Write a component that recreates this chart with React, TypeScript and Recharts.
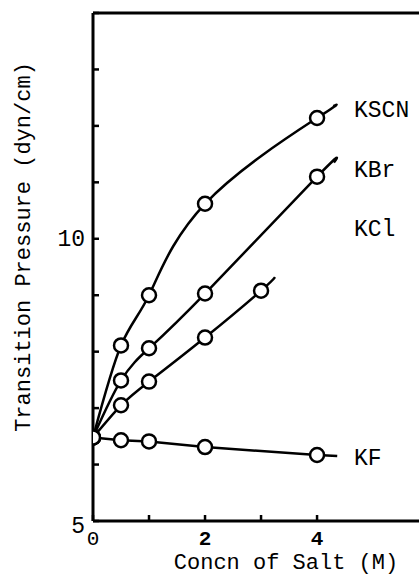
import { ComposedChart, Line, Scatter, XAxis, YAxis, ReferenceLine, ReferenceDot } from "recharts";

const FONT = '"Liberation Mono", "DejaVu Sans Mono", monospace';

// concentration of salt (M) and transition pressure (dyn/cm)
const conc = [0, 0.5, 1, 2, 4];
const kclConc = [0, 0.5, 1, 2, 3];
const kscn = [6.48, 8.11, 9.0, 10.62, 12.14];
const kbr = [6.48, 7.49, 8.06, 9.03, 11.1];
const kcl = [6.48, 7.05, 7.47, 8.25, 9.08];
const kf = [6.48, 6.43, 6.41, 6.31, 6.17];

const names = ["KSCN", "KBr", "KCl", "KF"];
const curveKinds: ("natural" | "linear")[] = ["natural", "natural", "natural", "linear"];
// where each drawn curve stops, a bit past its last point
const curveEndX = [4.29, 4.3, 3.25, 4.36];
const curveEndY = [12.35, 11.35, 9.32, 6.15];
// name labels at the right
const labelX = [4.66, 4.66, 4.66, 4.66];
const labelY = [12.26, 11.2, 10.16, 6.1];

const xTicks = [0, 1, 2, 3, 4];
const xLabeled = [0, 2, 4];
const yTicks = [5, 6, 7, 8, 9, 10, 11, 12, 13, 14];
const yLabeled = [5, 10];

const toPoints = (xs: number[], ys: number[]) => xs.map((x, i) => ({ x, y: ys[i] }));

const seriesPts = [
  toPoints(conc, kscn),
  toPoints(conc, kbr),
  toPoints(kclConc, kcl),
  toPoints(conc, kf),
];

const curves = seriesPts.map((pts, i) => [...pts, { x: curveEndX[i], y: curveEndY[i] }]);

const YTick = (props: any) => {
  const { x, y, payload } = props;
  const v = payload.value;
  return (
    <g>
      <line x1={x} x2={x + 6} y1={y} y2={y} stroke="#000" strokeWidth={2.5} />
      {yLabeled.includes(v) && (
        <text
          x={x - 8}
          y={v === 5 ? y + 6 : y + 1.5}
          textAnchor="end"
          dominantBaseline="central"
          fontFamily={FONT}
          fontSize={23}
          fill="#000"
        >
          {v}
        </text>
      )}
    </g>
  );
};

const XTick = (props: any) => {
  const { x, y, payload } = props;
  const v = payload.value;
  return (
    <g>
      <line x1={x} x2={x} y1={y} y2={y - 6} stroke="#000" strokeWidth={2.5} />
      {xLabeled.includes(v) && (
        <text
          x={x}
          y={y + 18}
          textAnchor="middle"
          dominantBaseline="central"
          fontFamily={FONT}
          fontSize={21}
          fontWeight={v === 0 ? "normal" : "bold"}
          fill="#000"
        >
          {v}
        </text>
      )}
    </g>
  );
};

const Marker = (p: any) => (
  <circle cx={p.cx} cy={p.cy} r={7} fill="#fff" stroke="#000" strokeWidth={2.5} />
);

export default function App() {
  return (
    <div style={{ position: "absolute", left: 0, top: 0, width: 419, height: 575, background: "#fff" }}>
      <ComposedChart width={419} height={575} margin={{ top: 13, right: 0, bottom: 0, left: 0 }}>
        <XAxis
          dataKey="x"
          type="number"
          domain={[0, 5.82]}
          ticks={xTicks}
          allowDataOverflow
          height={54}
          tickSize={0}
          tickMargin={0}
          tick={<XTick />}
          axisLine={{ stroke: "#000", strokeWidth: 3 }}
          label={{
            content: () => (
              <text x={286} y={563} textAnchor="middle" dominantBaseline="central" fontFamily={FONT} fontSize={22} fill="#000">
                Concn of Salt (M)
              </text>
            ),
          }}
        />
        <YAxis
          dataKey="y"
          type="number"
          domain={[5, 14]}
          ticks={yTicks}
          allowDataOverflow
          width={93}
          tickSize={0}
          tickMargin={0}
          tick={<YTick />}
          axisLine={{ stroke: "#000", strokeWidth: 3 }}
          label={{
            content: () => (
              <text
                x={24}
                y={247}
                transform="rotate(-90 24 247)"
                textAnchor="middle"
                dominantBaseline="central"
                fontFamily={FONT}
                fontSize={22}
                fill="#000"
              >
                Transition Pressure (dyn/cm)
              </text>
            ),
          }}
        />
        <ReferenceLine y={14} stroke="#000" strokeWidth={3} ifOverflow="visible" />
        {curves.map((c, i) => (
          <Line
            key={"l" + names[i]}
            data={c}
            dataKey="y"
            type={curveKinds[i]}
            stroke="#000"
            strokeWidth={2.5}
            dot={false}
            activeDot={false}
            isAnimationActive={false}
          />
        ))}
        {seriesPts.map((pts, i) => (
          <Scatter key={"s" + names[i]} data={pts} dataKey="y" shape={<Marker />} isAnimationActive={false} />
        ))}
        {names.map((n, i) => (
          <ReferenceDot
            key={"t" + n}
            x={labelX[i]}
            y={labelY[i]}
            ifOverflow="visible"
            shape={(p: any) => (
              <text x={p.cx} y={p.cy} dominantBaseline="central" fontFamily={FONT} fontSize={23} fill="#000">
                {n}
              </text>
            )}
          />
        ))}
      </ComposedChart>
    </div>
  );
}
